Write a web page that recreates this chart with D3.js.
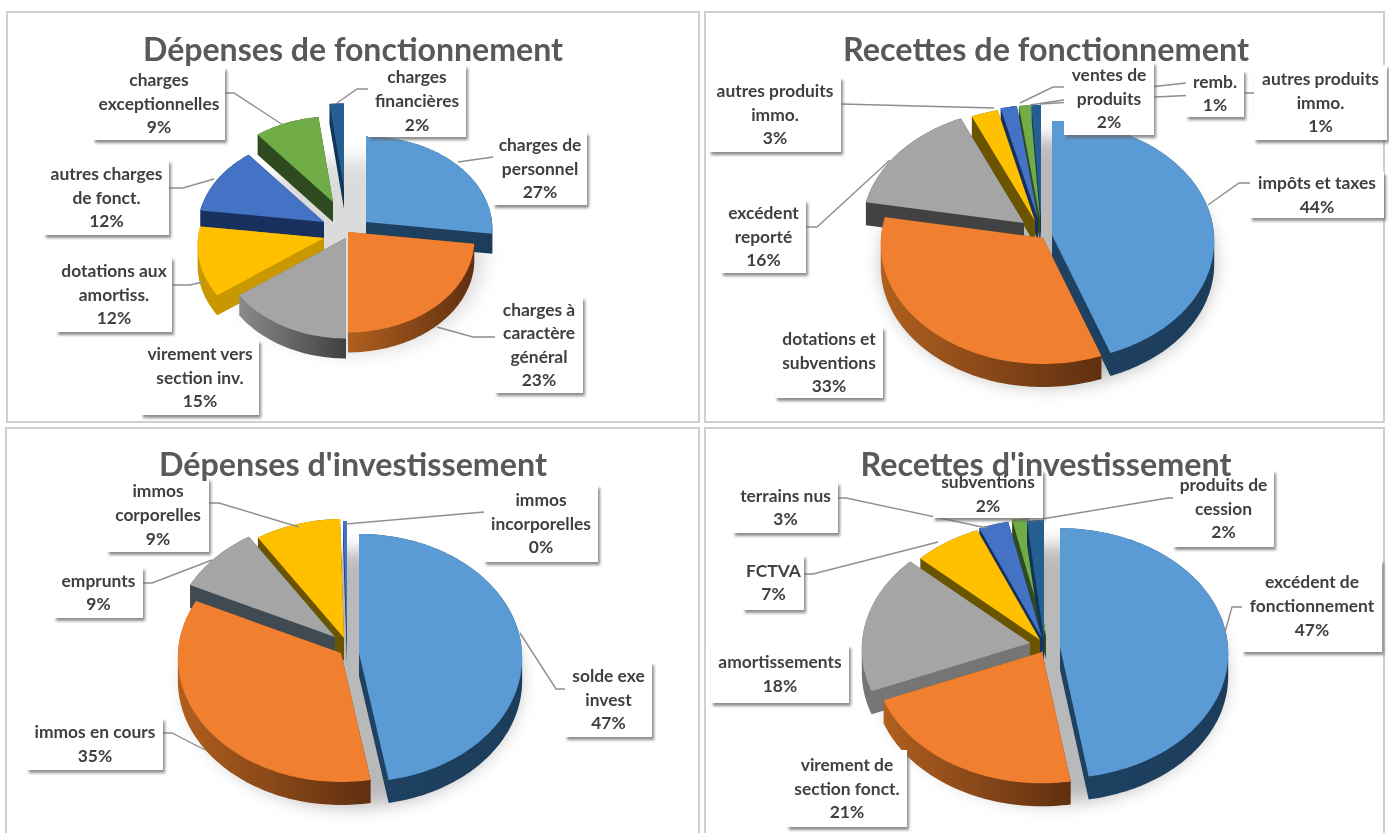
<!DOCTYPE html>
<html>
<head>
<meta charset="utf-8">
<script src="https://cdn.jsdelivr.net/npm/d3@7"></script>
<style>
  html, body { margin: 0; padding: 0; background: white; }
  svg { display: block; filter: blur(0.45px); }
  text { font-family: Lato, "Open Sans", sans-serif; }
</style>
</head>
<body>
<svg id="chart" width="1389" height="833"></svg>
<script>
// DATA
const titles = ["Dépenses de fonctionnement", "Recettes de fonctionnement", "Dépenses d'investissement", "Recettes d'investissement"];

const depFoncLabels = ["charges de|personnel", "charges à|caractère|général", "virement vers|section inv.", "dotations aux|amortiss.", "autres charges|de fonct.", "charges|exceptionnelles", "charges|financières"];
const depFoncValues = [27, 23, 15, 12, 12, 9, 2];

const recFoncLabels = ["impôts et taxes", "dotations et|subventions", "excédent|reporté", "autres produits|immo.", "ventes de|produits", "remb.", "autres produits|immo."];
const recFoncValues = [44.4, 33.4, 15.5, 2.8, 1.7, 1.2, 1.0];

const depInvLabels = ["solde exe|invest", "immos en cours", "emprunts", "immos|corporelles", "immos|incorporelles"];
const depInvValues = [47.2, 34.8, 8.8, 8.8, 0.4];

const recInvLabels = ["excédent de|fonctionnement", "virement de|section fonct.", "amortissements", "FCTVA", "terrains nus", "subventions", "produits de|cession"];
const recInvValues = [47.4, 21.4, 18, 6.8, 3, 1.7, 1.7];

// colours, same order in all four pies
const topColors = ["#5b9bd5", "#f08030", "#a5a5a5", "#ffc000", "#4472c4", "#70ad47", "#255e91"];
const wallStops = [
  ["#1f4263", "#1c3c5a"],
  ["#b0601f", "#5f2f10"],
  ["#8a8a8a", "#404040"],
  ["#6b5400", "#6b5400"],
  ["#17305e", "#17305e"],
  ["#2f4a1f", "#2f4a1f"],
  ["#123456", "#123456"]
];
// the gray slice wall is lit differently in each pie, yellow only in the first
const grayWalls = ["url(#wall2)", "#424242", "#3f4a52", "#757575"];
const shadowOpacity = [0.3, 0.6, 0.6, 0.6];

// LAYOUT
const panelRects = [[7, 12, 692, 410], [705, 12, 679, 410], [6, 428, 693, 420], [705, 428, 679, 420]];
const titleAnchors = [[353, 61], [1046, 61], [353, 476], [1046, 476]];
const titleWidths = [420, 406, 388, 371];

// pie geometry: cx, cy, rx, ry, perspective, depth
const pieShapes = [
  [346, 230, 126, 93, 0.08, 20],
  [1040, 233, 162, 120, 0.05, 23],
  [345, 650, 163, 124, 0.04, 23],
  [1045, 645, 168, 125, 0.05, 23]
];

// slice explosion, dx/dy from the pie centre
const depFoncOffsets = [[20, -8], [2, 2], [0, 8], [-22, 8], [-22, -8], [-13, -28], [-2, -41]];
const recFoncOffsets = [[12, 2], [3, 5], [-16, -10], [-5, -12], [-2, -14], [0, -14], [1, -14]];
const depInvOffsets = [[14, 3], [-4, 3], [-10, -13], [-1, -12], [2, -10]];
const recInvOffsets = [[15, 2], [-3, 7], [-15, -2], [-5, -5], [-3, -7], [1, -9], [-1, -6]];

// label boxes: x0, y0, x1, y1
const depFoncBoxes = [[493, 132, 587, 205], [495, 297, 583, 393], [141, 340, 259, 415], [56, 257, 172, 332], [44, 160, 169, 235], [93, 67, 225, 140], [368, 65, 466, 137]];
const recFoncBoxes = [[1250, 172, 1384, 218], [775, 327, 883, 398], [721, 200, 806, 273], [709, 77, 841, 152], [1064, 62, 1154, 135], [1186, 70, 1244, 117], [1254, 65, 1387, 140]];
const depInvBoxes = [[565, 662, 652, 737], [27, 718, 163, 770], [54, 567, 143, 618], [107, 478, 209, 552], [484, 485, 598, 562]];
const recInvBoxes = [[1242, 560, 1382, 652], [787, 750, 907, 827], [711, 645, 849, 703], [743, 555, 804, 610], [733, 482, 838, 533], [933, 470, 1043, 518], [1173, 470, 1274, 547]];

// leader lines
const depFoncLeaders = [[[493, 157], [458, 162]], [[495, 337], [473, 337], [437, 327]], [], [[172, 285], [190, 285], [203, 282]], [[169, 188], [183, 188], [214, 179]], [[225, 93], [234, 93], [283, 125]], [[368, 89], [357, 89], [337, 103]]];
const recFoncLeaders = [[[1250, 183], [1239, 183], [1208, 205]], [], [[806, 227], [817, 227], [890, 160]], [[841, 104], [994, 108]], [[1064, 87], [1053, 87], [1020, 103]], [[1186, 83], [1150, 87], [1030, 105]], [[1254, 93], [1240, 93], [1155, 97], [1040, 104]]];
const depInvLeaders = [[[565, 689], [556, 689], [520, 633]], [[163, 733], [172, 733], [205, 750]], [[143, 583], [152, 583], [212, 560]], [[209, 503], [219, 503], [299, 527]], [[484, 512], [346, 524]]];
const recInvLeaders = [[[1242, 607], [1232, 607], [1225, 632]], [], [], [[804, 574], [813, 574], [938, 542]], [[838, 498], [846, 498], [987, 528]], [], [[1173, 498], [1168, 498], [1042, 519]]];

const charts = [
  { labels: depFoncLabels, values: depFoncValues, offsets: depFoncOffsets, boxes: depFoncBoxes, leaders: depFoncLeaders },
  { labels: recFoncLabels, values: recFoncValues, offsets: recFoncOffsets, boxes: recFoncBoxes, leaders: recFoncLeaders },
  { labels: depInvLabels, values: depInvValues, offsets: depInvOffsets, boxes: depInvBoxes, leaders: depInvLeaders },
  { labels: recInvLabels, values: recInvValues, offsets: recInvOffsets, boxes: recInvBoxes, leaders: recInvLeaders }
];

const svg = d3.select("#chart");
const defs = svg.append("defs");

// filters
const boxShadow = defs.append("filter").attr("id", "boxShadow")
  .attr("x", "-20%").attr("y", "-20%").attr("width", "140%").attr("height", "140%");
boxShadow.append("feDropShadow").attr("dx", 2).attr("dy", 3).attr("stdDeviation", 1.6)
  .attr("flood-color", "#666").attr("flood-opacity", 0.75);

const pieShadow = defs.append("filter").attr("id", "pieShadow")
  .attr("x", "-30%").attr("y", "-30%").attr("width", "160%").attr("height", "160%");
pieShadow.append("feGaussianBlur").attr("stdDeviation", 9);

// wall gradients
wallStops.forEach((stops, i) => {
  const grad = defs.append("linearGradient").attr("id", "wall" + i);
  grad.append("stop").attr("offset", "0%").attr("stop-color", stops[0]);
  grad.append("stop").attr("offset", "100%").attr("stop-color", stops[1]);
});

const line = d3.line();
const closed = d3.line().curve(d3.curveLinearClosed);

// panels
svg.selectAll("rect.panel")
  .data(panelRects)
  .enter()
  .append("rect")
  .attr("class", "panel")
  .attr("x", d => d[0])
  .attr("y", d => d[1])
  .attr("width", d => d[2])
  .attr("height", d => d[3])
  .attr("fill", "white")
  .attr("stroke", "#cfcfcf")
  .attr("stroke-width", 2);

// point on the rim of a slice, with some perspective
const project = (theta, shape) => {
  const rx = shape[2], ry = shape[3], k = shape[4];
  const s = 1 - k * Math.cos(theta);
  return [rx * Math.sin(theta) * s, -ry * Math.cos(theta) * s];
};

const drawPie = (chart, shape, i) => {
  const cx = shape[0], cy = shape[1], ry = shape[3], depth = shape[5];
  const g = svg.append("g").attr("class", "pie");

  g.append("ellipse")
    .attr("cx", cx + 8)
    .attr("cy", cy + depth + 6)
    .attr("rx", shape[2] + 4)
    .attr("ry", ry + 4)
    .attr("fill", "#8c8c8c")
    .attr("opacity", shadowOpacity[i])
    .attr("filter", "url(#pieShadow)");

  const arcs = d3.pie().sort(null).value(d => d)(chart.values);

  const slices = arcs.map((a, j) => {
    const off = chart.offsets[j];
    const apex = [cx + off[0], cy + off[1]];
    const n = Math.max(2, Math.ceil((a.endAngle - a.startAngle) * 40));
    const angle = d3.scaleLinear().domain([0, n]).range([a.startAngle, a.endAngle]);
    const rim = d3.range(n + 1).map(t => {
      const p = project(angle(t), shape);
      return [apex[0] + p[0], apex[1] + p[1]];
    });
    const poly = [apex].concat(rim);
    const mid = (a.startAngle + a.endAngle) / 2;
    return { j, poly, order: apex[1] - Math.cos(mid) * ry };
  });

  // back slices first
  slices.sort((a, b) => d3.ascending(a.order, b.order));

  slices.forEach(s => {
    const lower = s.poly.map(p => [p[0], p[1] + depth]);
    const hull = d3.polygonHull(s.poly.concat(lower));
    let wall = "url(#wall" + s.j + ")";
    if (s.j === 2) wall = grayWalls[i];
    // the yellow edge of the first pie faces the light
    if (i === 0 && s.j === 3) wall = "#c99700";
    g.append("path").attr("d", closed(hull)).attr("fill", wall);
    g.append("path").attr("d", closed(s.poly)).attr("fill", topColors[s.j]);
  });
};

const drawLabels = (chart) => {
  const g = svg.append("g").attr("class", "labels");

  chart.leaders.forEach(pts => {
    if (pts.length) {
      g.append("path")
        .attr("d", line(pts))
        .attr("fill", "none")
        .attr("stroke", "#8f8f8f")
        .attr("stroke-width", 1.4);
    }
  });

  chart.boxes.forEach((b, j) => {
    g.append("rect")
      .attr("x", b[0])
      .attr("y", b[1])
      .attr("width", b[2] - b[0])
      .attr("height", b[3] - b[1])
      .attr("fill", "white")
      .attr("filter", "url(#boxShadow)");

    const lines = chart.labels[j].split("|").concat(Math.round(chart.values[j]) + "%");
    const lineH = 23.6;
    const top = (b[1] + b[3]) / 2 - lineH * (lines.length - 1) / 2;
    lines.forEach((t, k) => {
      g.append("text")
        .attr("x", (b[0] + b[2]) / 2)
        .attr("y", top + k * lineH)
        .attr("dy", "0.35em")
        .attr("text-anchor", "middle")
        .attr("font-size", 17.4)
        .attr("font-weight", 700)
        .attr("fill", "#404040")
        .text(t);
    });
  });
};

charts.forEach((chart, i) => drawPie(chart, pieShapes[i], i));
charts.forEach(chart => drawLabels(chart));

// titles go last, they sit over the label boxes
svg.selectAll("text.title")
  .data(titles)
  .enter()
  .append("text")
  .attr("class", "title")
  .attr("x", (d, i) => titleAnchors[i][0])
  .attr("y", (d, i) => titleAnchors[i][1])
  .attr("text-anchor", "middle")
  .attr("font-size", 33)
  .attr("font-weight", 700)
  .attr("fill", "#595959")
  .attr("textLength", (d, i) => titleWidths[i])
  .attr("lengthAdjust", "spacingAndGlyphs")
  .text(d => d);
</script>
</body>
</html>
